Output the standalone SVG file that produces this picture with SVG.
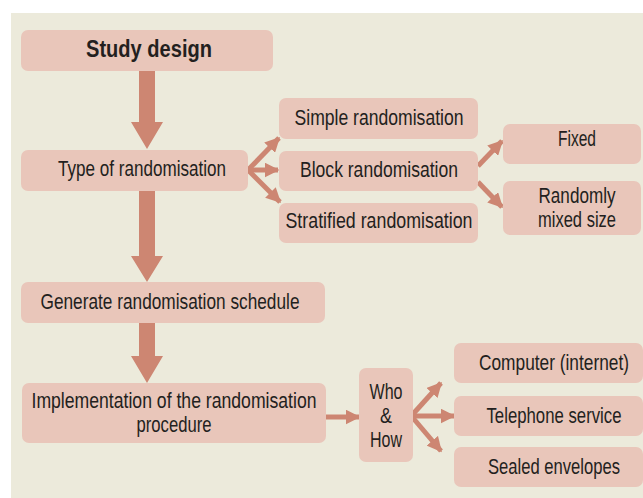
<svg xmlns="http://www.w3.org/2000/svg" width="643" height="498" viewBox="0 0 643 498">
<style>
.bg{fill:#eceadb}
.n{fill:#e9c6ba}
.t{font-family:"Liberation Sans",Arial,sans-serif;font-size:22.5px;fill:#231f20;text-anchor:middle}
.b{font-weight:bold;font-size:23px}
.big{fill:#cd8672}
.ln{stroke:#cd8672;stroke-width:5;fill:none;marker-end:url(#ah)}
</style>
<defs>
<marker id="ah" viewBox="0 0 10 10" refX="9" refY="5" markerWidth="3" markerHeight="3" orient="auto" markerUnits="strokeWidth">
<path d="M0,0 L10,5 L0,10 z" fill="#cd8672"/>
</marker>
</defs>
<rect class="bg" x="11" y="13" width="632" height="485"/>
<g id="connectors">
<polygon class="big" points="139,71 155,71 155,122 163,122 147,149 131,122 139,122"/>
<polygon class="big" points="139,191 155,191 155,256 163,256 147,282 131,256 139,256"/>
<polygon class="big" points="139,323 155,323 155,356 163,356 147,383 131,356 139,356"/>
<line class="ln" x1="248" y1="170" x2="279" y2="138"/>
<line class="ln" x1="248" y1="170" x2="278" y2="170"/>
<line class="ln" x1="248" y1="170" x2="280" y2="202"/>
<line class="ln" x1="478" y1="166" x2="502" y2="141"/>
<line class="ln" x1="478" y1="182" x2="502" y2="207"/>
<line class="ln" x1="326" y1="417" x2="359" y2="417"/>
<line class="ln" x1="413" y1="414" x2="441" y2="383"/>
<line class="ln" x1="413" y1="416" x2="454" y2="416"/>
<line class="ln" x1="413" y1="418" x2="441" y2="451"/>
</g>
<g id="study"><rect class="n" x="21" y="30" width="252" height="41" rx="7"/><text class="t b" x="149" y="57" textLength="126" lengthAdjust="spacingAndGlyphs">Study design</text></g>
<g id="type"><rect class="n" x="21" y="150" width="227" height="41" rx="7"/><text class="t" x="142" y="176" textLength="168" lengthAdjust="spacingAndGlyphs">Type of randomisation</text></g>
<g id="generate"><rect class="n" x="21" y="282" width="304" height="41" rx="7"/><text class="t" x="170" y="309" textLength="259" lengthAdjust="spacingAndGlyphs">Generate randomisation schedule</text></g>
<g id="impl"><rect class="n" x="22" y="383" width="304" height="60" rx="7"/><text class="t" x="174" y="408" textLength="285" lengthAdjust="spacingAndGlyphs">Implementation of the randomisation</text><text class="t" x="174" y="432" textLength="75" lengthAdjust="spacingAndGlyphs">procedure</text></g>
<g id="simple"><rect class="n" x="279" y="98" width="199" height="41" rx="7"/><text class="t" x="379" y="125" textLength="169" lengthAdjust="spacingAndGlyphs">Simple randomisation</text></g>
<g id="block"><rect class="n" x="279" y="151" width="199" height="40" rx="7"/><text class="t" x="379" y="177" textLength="158" lengthAdjust="spacingAndGlyphs">Block randomisation</text></g>
<g id="stratified"><rect class="n" x="279" y="203" width="199" height="40" rx="7"/><text class="t" x="379" y="228" textLength="187" lengthAdjust="spacingAndGlyphs">Stratified randomisation</text></g>
<g id="fixed"><rect class="n" x="503" y="124" width="138" height="40" rx="7"/><text class="t" x="577" y="146" textLength="38" lengthAdjust="spacingAndGlyphs">Fixed</text></g>
<g id="mixed"><rect class="n" x="503" y="181" width="138" height="54" rx="7"/><text class="t" x="577" y="203" textLength="77" lengthAdjust="spacingAndGlyphs">Randomly</text><text class="t" x="577" y="227" textLength="78" lengthAdjust="spacingAndGlyphs">mixed size</text></g>
<g id="who"><rect class="n" x="359" y="368" width="54" height="94" rx="7"/><text class="t" x="386" y="399" textLength="33" lengthAdjust="spacingAndGlyphs">Who</text><text class="t" x="386" y="423" textLength="12" lengthAdjust="spacingAndGlyphs">&amp;</text><text class="t" x="386" y="447" textLength="32" lengthAdjust="spacingAndGlyphs">How</text></g>
<g id="computer"><rect class="n" x="454" y="343" width="189" height="40" rx="7"/><text class="t" x="554" y="370" textLength="150" lengthAdjust="spacingAndGlyphs">Computer (internet)</text></g>
<g id="telephone"><rect class="n" x="454" y="396" width="189" height="40" rx="7"/><text class="t" x="554" y="423" textLength="135" lengthAdjust="spacingAndGlyphs">Telephone service</text></g>
<g id="sealed"><rect class="n" x="454" y="447" width="189" height="40" rx="7"/><text class="t" x="554" y="474" textLength="132" lengthAdjust="spacingAndGlyphs">Sealed envelopes</text></g>
</svg>
